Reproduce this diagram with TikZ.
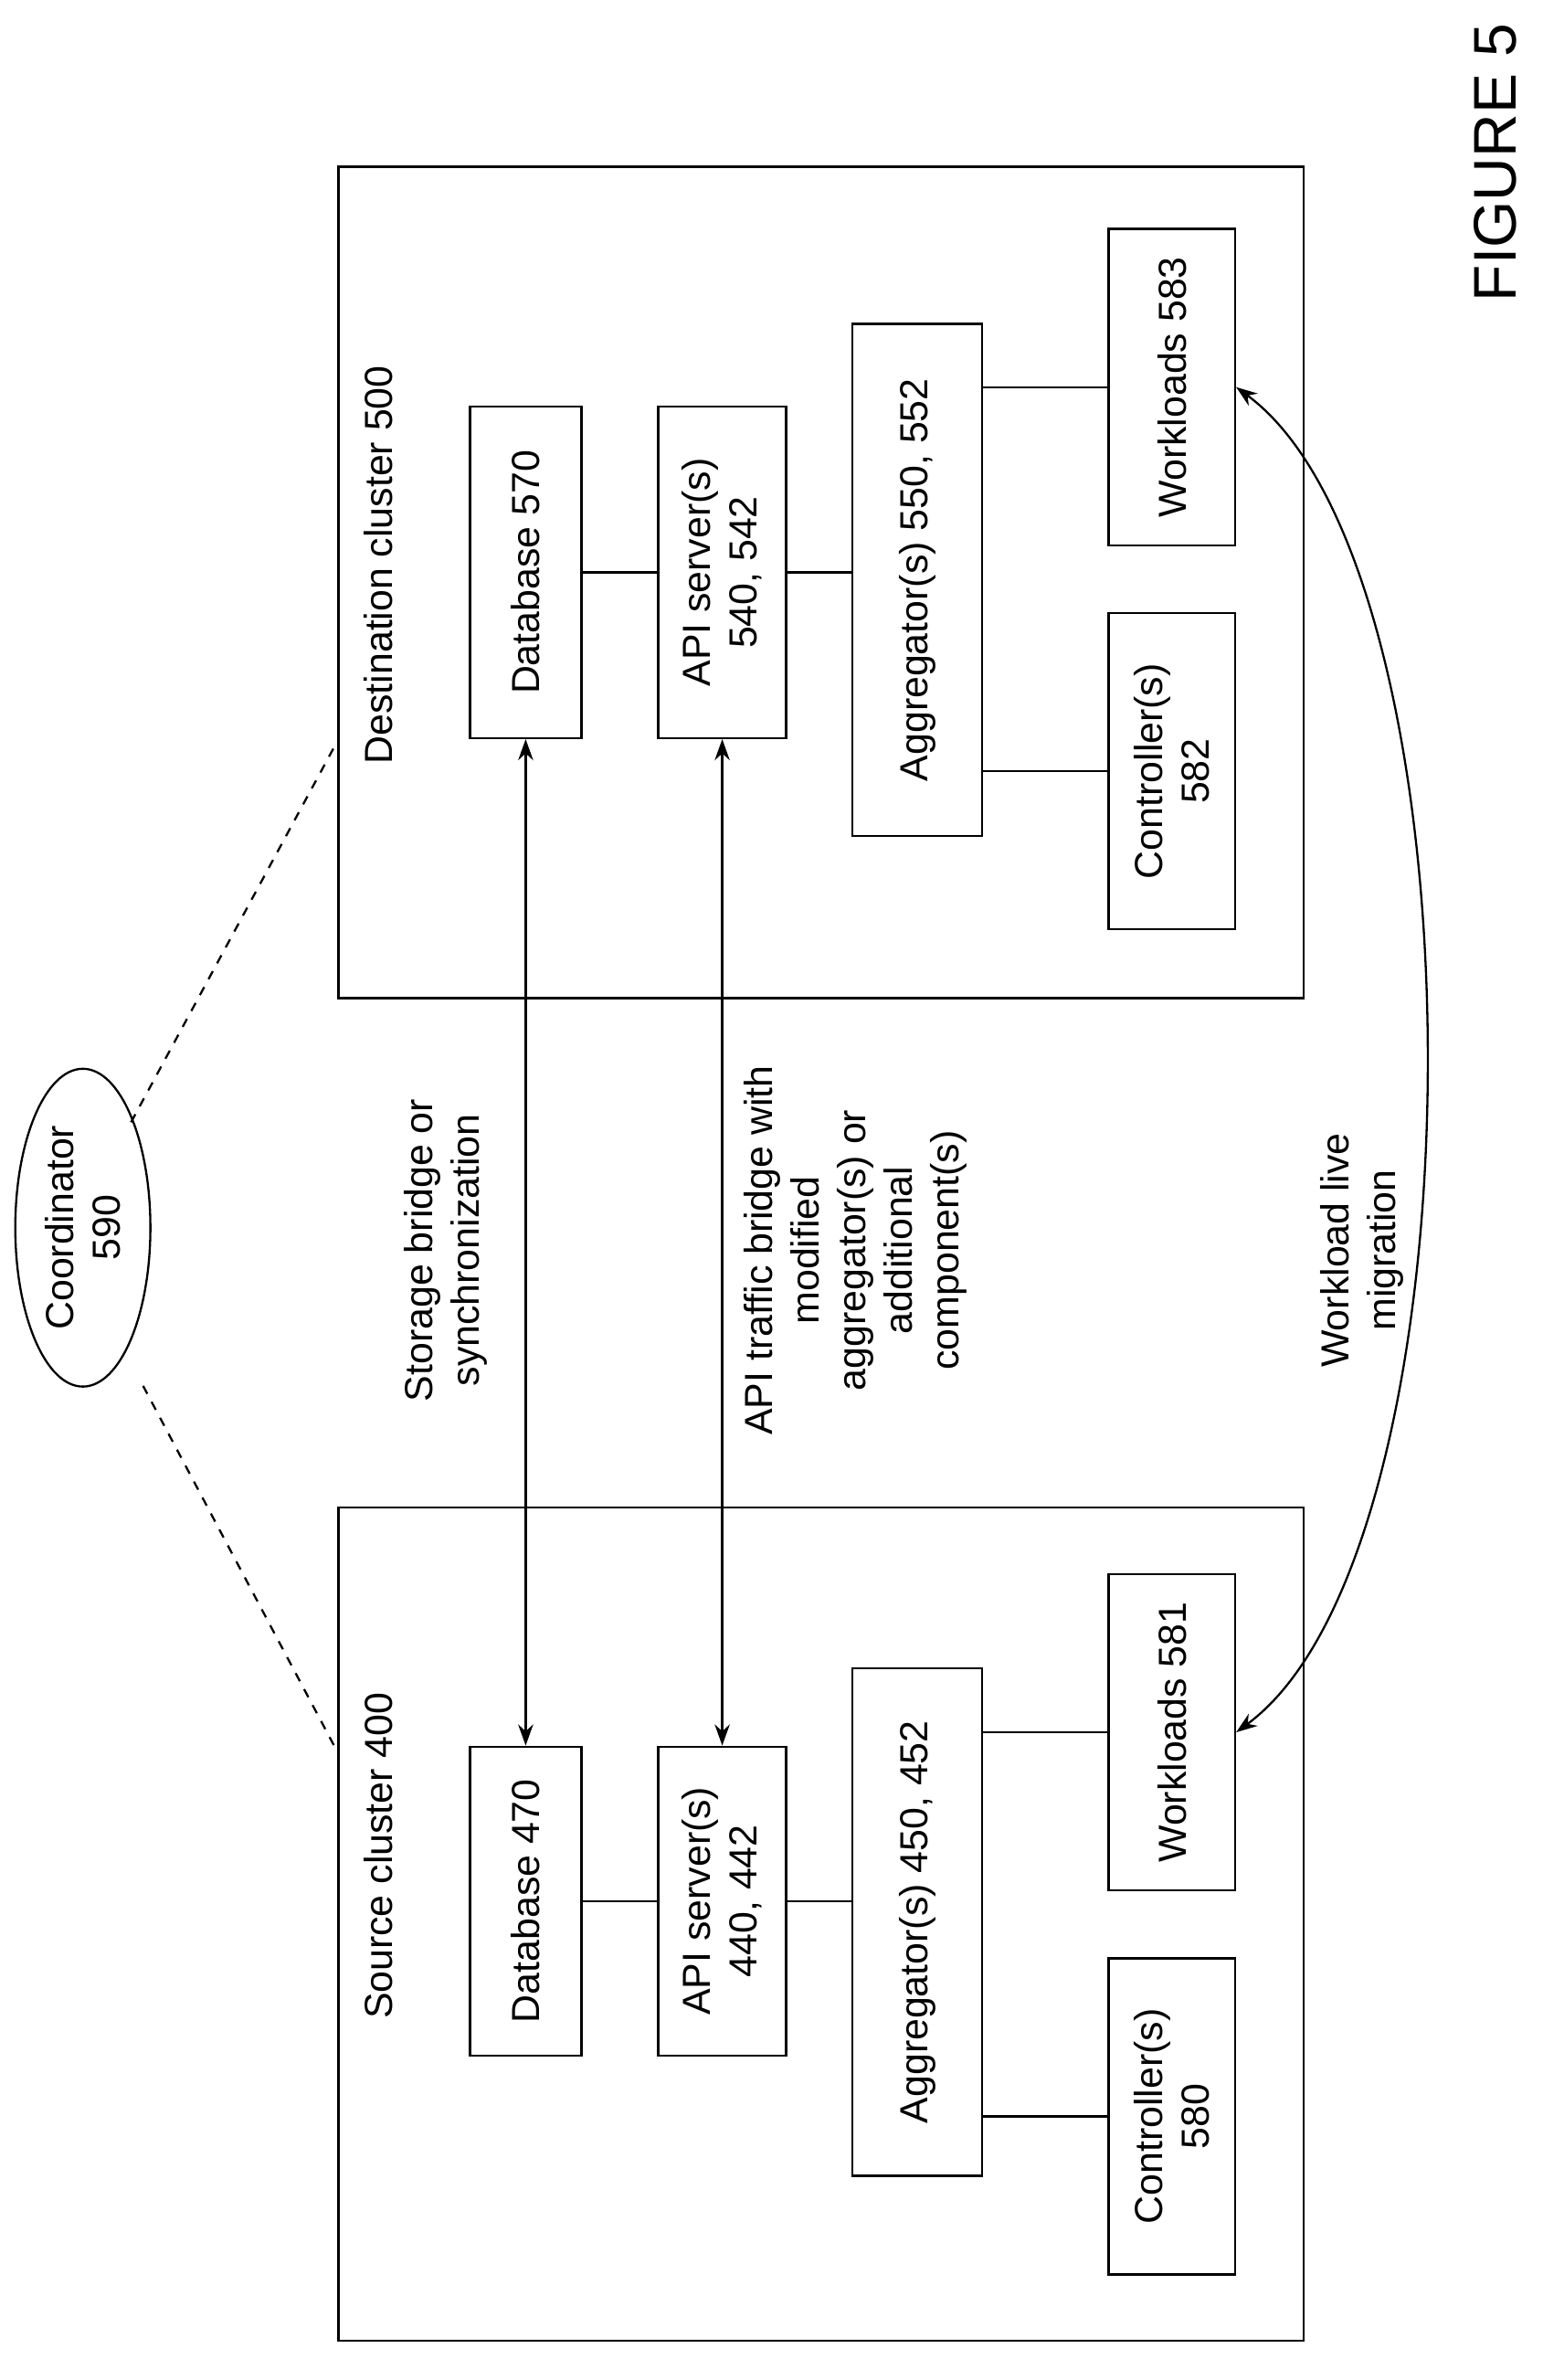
\documentclass[tikz,border=0pt]{standalone}
\usepackage{fontspec}
\setmainfont{Liberation Sans}
\usetikzlibrary{arrows.meta,shapes.geometric}
\begin{document}
\begin{tikzpicture}[x=0.5pt,y=-0.5pt,line width=0.7pt,
  box/.style={draw,rotate=90,align=center,inner sep=1pt,font=\fontsize{13}{15.5}\selectfont},
  lbl/.style={rotate=90,align=center,font=\fontsize{13}{15.5}\selectfont},
  arr/.style={{Stealth[length=7pt,width=5pt]}-{Stealth[length=7pt,width=5pt]}}]
\useasboundingbox (0,0) rectangle (1024,1580);
% clusters
\node[draw,minimum width=320.5pt,minimum height=276.5pt,anchor=north west] (srcC) at (224,1000) {};
\node[draw,minimum width=320.5pt,minimum height=276pt,anchor=north west] (dstC) at (224,110) {};
\node[lbl] (srcL) at (251,1232) {Source cluster 400};
\node[lbl] (dstL) at (251,375) {Destination cluster 500};
% source
\node[box,minimum width=102.5pt,minimum height=37pt] (dbS) at (349,1262) {Database 470};
\node[box,minimum width=102.5pt,minimum height=42.5pt] (apiS) at (479.5,1262) {API server(s)\\440, 442};
\node[box,minimum width=168.5pt,minimum height=43pt] (agS) at (609,1276) {Aggregator(s) 450, 452};
\node[box,minimum width=105pt,minimum height=42pt] (wS) at (778,1150) {Workloads 581};
\node[box,minimum width=105pt,minimum height=42pt] (cS) at (778,1405) {Controller(s)\\580};
% destination
\node[box,minimum width=110pt,minimum height=37pt] (dbD) at (349,380) {Database 570};
\node[box,minimum width=110pt,minimum height=42.5pt] (apiD) at (479.5,380) {API server(s)\\540, 542};
\node[box,minimum width=170pt,minimum height=43pt] (agD) at (609,385) {Aggregator(s) 550, 552};
\node[box,minimum width=105pt,minimum height=42pt] (wD) at (778,257) {Workloads 583};
\node[box,minimum width=105pt,minimum height=42pt] (cD) at (778,512) {Controller(s)\\582};
% internal links
\draw (dbS) -- (apiS);
\draw (apiS) -- (apiS -| agS.north);
\draw (wS.north) -- (wS.north -| agS.south);
\draw (cS.north) -- (cS.north -| agS.south);
\draw (dbD) -- (apiD);
\draw (apiD) -- (apiD -| agD.north);
\draw (wD.north) -- (wD.north -| agD.south);
\draw (cD.north) -- (cD.north -| agD.south);
% bridges
\draw[arr] (dbD.west) -- (dbS.east);
\draw[arr] (apiD.west) -- (apiS.east);
\draw[arr] (wD.south) .. controls (988,380) and (988,1027) .. (wS.south);
\node[lbl] (sbl) at (296,830) {Storage bridge or\\synchronization};
\node[lbl] (apl) at (568,830) {API traffic bridge with\\modified\\aggregator(s) or\\additional\\component(s)};
\node[lbl] (wll) at (904,830) {Workload live\\migration};
% coordinator
\node[draw,ellipse,minimum width=85pt,minimum height=42pt,rotate=90,align=center,font=\fontsize{13}{15.5}\selectfont] (co) at (55,815) {Coordinator\\590};
\coordinate (dc) at (224,492);
\coordinate (sc) at (224,1163);
\coordinate (e1) at (87,745);
\coordinate (e2) at (95,920);
\draw[dashed] (e1) -- (dc);
\draw[dashed] (e2) -- (sc);
\node[rotate=90,font=\fontsize{20}{24}\selectfont] (fig) at (993,108) {FIGURE 5};
\end{tikzpicture}
\end{document}
